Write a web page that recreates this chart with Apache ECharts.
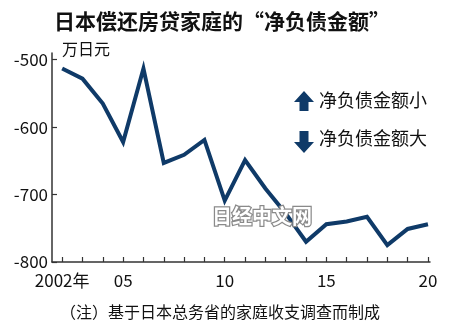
<!DOCTYPE html>
<html>
<head>
<meta charset="utf-8">
<script src="https://cdn.jsdelivr.net/npm/echarts@6/dist/echarts.min.js"></script>
<style>
html,body{margin:0;padding:0;background:#fff;}
#c{width:450px;height:333px;}
</style>
</head>
<body>
<div id="c"></div>
<script>
const years = [2002,2003,2004,2005,2006,2007,2008,2009,2010,2011,2012,2013,2014,2015,2016,2017,2018,2019,2020];
const netDebt = [-513,-528,-565,-622,-513,-653,-641,-619,-709,-649,-691,-728,-770,-744,-740,-733,-775,-751,-744];
const xTickValues = [2002,2003,2004,2005,2006,2007,2008,2009,2010,2011,2012,2013,2014,2015,2016,2017,2018,2019,2020];
const xLabelValues = [2002,2005,2010,2015,2020];
const xLabelTexts = {2002:'2002年',2005:'05',2010:'10',2015:'15',2020:'20'};
const yTickValues = [-800,-700,-600,-500];

const FONT = '"Noto Sans CJK SC", "Noto Sans", sans-serif';
const NAVY = '#0f3a68';
const AXIS = '#333';

const chart = echarts.init(document.getElementById('c'), null, {renderer:'canvas'});
chart.setOption({
  backgroundColor:'#fff',
  animation:false,
  grid:{left:52, right:20, top:53, bottom:71, containLabel:false},
  xAxis:{
    type:'value', min:2001.5, max:2020.1,
    axisLine:{show:true, lineStyle:{color:AXIS, width:1.5}},
    axisTick:{show:true, inside:true, length:5, lineStyle:{color:AXIS, width:1.2}, customValues:xTickValues},
    axisLabel:{show:true, customValues:xLabelValues, margin:10, color:'#111', fontSize:17, fontFamily:FONT,
      formatter:function(v){return xLabelTexts[v] || '';}},
    splitLine:{show:false}
  },
  yAxis:{
    type:'value', min:-800, max:-490,
    axisLine:{show:true, lineStyle:{color:AXIS, width:1.5}},
    axisTick:{show:true, inside:true, length:5, lineStyle:{color:AXIS, width:1.2}, customValues:yTickValues},
    axisLabel:{show:true, customValues:yTickValues, margin:4, color:'#111', fontSize:17, fontFamily:FONT},
    splitLine:{show:false}
  },
  series:[{
    type:'line',
    data: years.map((y,i)=>[y, netDebt[i]]),
    symbol:'none',
    lineStyle:{color:NAVY, width:4, join:'miter'},
    z:2
  }],
  graphic:[
    {type:'text', x:222, y:21, style:{text:'日本偿还房贷家庭的“净负债金额”', font:'bold 21px '+FONT, fill:'#111', align:'center', verticalAlign:'middle'}},
    {type:'text', x:62, y:41, style:{text:'万日元', font:'16px '+FONT, fill:'#111'}},
    {type:'polygon', shape:{points:[[294,102],[304,91],[314,102],[308.5,102],[308.5,111],[299.5,111],[299.5,102]]}, style:{fill:NAVY}},
    {type:'text', x:319, y:91, style:{text:'净负债金额小', font:'18px '+FONT, fill:'#111'}},
    {type:'polygon', shape:{points:[[299.5,131],[308.5,131],[308.5,142],[314,142],[304,153],[294,142],[299.5,142]]}, style:{fill:NAVY}},
    {type:'text', x:319, y:129, style:{text:'净负债金额大', font:'18px '+FONT, fill:'#111'}},
    {type:'text', x:262, y:216, z:100, style:{text:'日经中文网', font:'bold 20px '+FONT, fill:'#fff', stroke:'#8a8a8a', lineWidth:2.5, align:'center', verticalAlign:'middle'}},
    {type:'text', x:220, y:312, style:{text:'（注）基于日本总务省的家庭收支调查而制成', font:'16px '+FONT, fill:'#111', align:'center', verticalAlign:'middle'}}
  ]
});
</script>
</body>
</html>
